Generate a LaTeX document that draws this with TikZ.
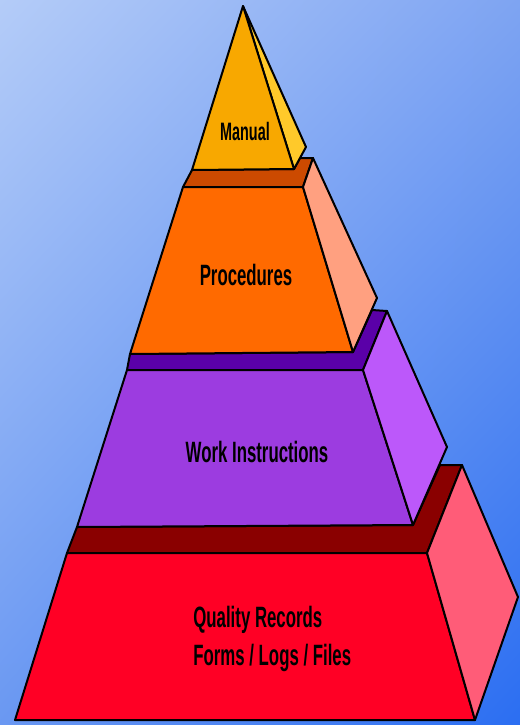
\documentclass[tikz,border=0pt]{standalone}
\usepackage{fontspec}
\setmainfont{Liberation Sans}
\usetikzlibrary{shadings}
\definecolor{bgUL}{HTML}{B4CCF8}
\definecolor{bgUR}{HTML}{7EA4F2}
\definecolor{bgLL}{HTML}{6A98F2}
\definecolor{bgLR}{HTML}{2B6EF2}
\definecolor{manFront}{HTML}{F8A800}
\definecolor{manSide}{HTML}{FFC92A}
\definecolor{procSlab}{HTML}{CC4A00}
\definecolor{procFront}{HTML}{FF6A00}
\definecolor{procSide}{HTML}{FFA080}
\definecolor{workSlab}{HTML}{5A00A8}
\definecolor{workFront}{HTML}{9C3CE0}
\definecolor{workSide}{HTML}{BC58FA}
\definecolor{recSlab}{HTML}{8A0000}
\definecolor{recFront}{HTML}{FF0025}
\definecolor{recSide}{HTML}{FF5C78}
\begin{document}
\begin{tikzpicture}[x=0.5pt,y=-0.5pt,
  face/.style={draw=black,line width=1pt,line join=round},
  lbl/.style={inner sep=0pt,text=black}]
\shade[upper left=bgUL,upper right=bgUR,lower left=bgLL,lower right=bgLR] (0,0) rectangle (520,725);
\useasboundingbox (0,0) rectangle (520,725);

% ---- Quality Records level
\filldraw[face,fill=recSlab] (67,553) -- (77,527) -- (413,525) -- (440,465) -- (462,465) -- (427,553) -- cycle;
\filldraw[face,fill=recFront] (67,553) -- (427,553) -- (475,720) -- (15,720) -- cycle;
\filldraw[face,fill=recSide] (427,553) -- (462,465) -- (518,597) -- (475,720) -- cycle;

% ---- Work Instructions level
\filldraw[face,fill=workSlab] (127,370) -- (130,354) -- (353,352) -- (372,310) -- (387,311) -- (363,370) -- cycle;
\filldraw[face,fill=workFront] (127,370) -- (363,370) -- (413,525) -- (77,527) -- cycle;
\filldraw[face,fill=workSide] (363,370) -- (387,311) -- (447,447) -- (413,525) -- cycle;

% ---- Procedures level
\filldraw[face,fill=procSlab] (183,187) -- (192,170) -- (294,169) -- (300,158) -- (313,158) -- (303,187) -- cycle;
\filldraw[face,fill=procFront] (183,187) -- (303,187) -- (353,352) -- (130,354) -- cycle;
\filldraw[face,fill=procSide] (303,187) -- (313,158) -- (377,298) -- (353,352) -- cycle;

% ---- Manual level
\filldraw[face,fill=manSide] (243,6) -- (306,147) -- (294,169) -- cycle;
\filldraw[face,fill=manFront] (243,6) -- (294,169) -- (192,170) -- cycle;

% ---- labels
\node[lbl] (manual) at (245,131) {\scalebox{1}[1.75]{\fontsize{7.2pt}{8pt}\selectfont\bfseries Manual}};
\node[lbl] (proc) at (246,275) {\scalebox{1}[1.75]{\fontsize{8.4pt}{9pt}\selectfont\bfseries Procedures}};
\node[lbl] (work) at (257,452) {\scalebox{1}[1.75]{\fontsize{8.4pt}{9pt}\selectfont\bfseries Work Instructions}};
\node[lbl,anchor=west] (rec) at (193,639) {\scalebox{1}[1.75]{\fontsize{8.4pt}{10.9pt}\selectfont\bfseries\begin{tabular}{@{}l@{}}Quality Records\\Forms / Logs / Files\end{tabular}}};
\end{tikzpicture}
\end{document}
